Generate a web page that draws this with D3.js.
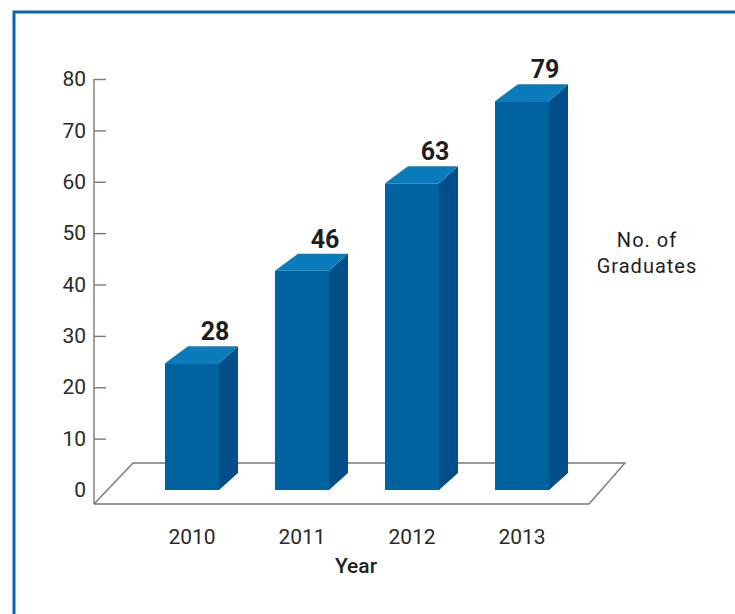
<!DOCTYPE html>
<html>
<head>
<meta charset="utf-8">
<script src="https://cdn.jsdelivr.net/npm/d3@7"></script>
<style>
  html, body { margin: 0; padding: 0; background: #fff; }
  svg { display: block; }
</style>
</head>
<body>
<svg id="chart" width="735" height="614"></svg>
<script>
// Graduates per year
const years = ["2010", "2011", "2012", "2013"];
const graduates = [28, 46, 63, 79];
const yTicks = [0, 10, 20, 30, 40, 50, 60, 70, 80];
const yAxisTitle = ["No. of", "Graduates"];
const xAxisTitle = "Year";

const svg = d3.select("#chart");
const W = 735, H = 614;

// outer frame (open on the right and bottom edges of the page)
svg.append("rect")
  .attr("x", 14).attr("y", 12)
  .attr("width", W).attr("height", H)
  .attr("fill", "none")
  .attr("stroke", "#0b66ae")
  .attr("stroke-width", 3);

const y = d3.scaleLinear().domain([0, 80]).range([490, 79]);
const x = d3.scalePoint().domain(years).range([192, 522]);

const barW = 54;      // front face width
const depthR = 19;    // depth offset, right edge
const depthL = 23;    // depth offset, left edge (slight perspective)
const depthY = 17;    // vertical depth offset
const axisX = 94;

// floor parallelogram
const floorFront = 504, floorBack = 463;
svg.append("path")
  .attr("d", d3.line()([[axisX, floorFront], [589, floorFront], [625, floorBack], [133, floorBack], [axisX, floorFront]]))
  .attr("fill", "none")
  .attr("stroke", "#7a7a7a")
  .attr("stroke-width", 1.4);

// y axis
const yAxis = d3.axisLeft(y)
  .tickValues(yTicks)
  .tickSize(-12)
  .tickPadding(8)
  .tickFormat(d3.format("d"));

const gy = svg.append("g")
  .attr("transform", `translate(${axisX},0)`)
  .call(yAxis);
gy.select(".domain").remove();
gy.selectAll(".tick line")
  .attr("stroke", "#7a7a7a")
  .attr("stroke-width", 1.4)
  .filter(d => d === 0).remove();
gy.selectAll(".tick text")
  .attr("fill", "#2a2a2a")
  .style("font-family", "Roboto, sans-serif")
  .style("font-weight", 400)
  .style("font-size", "21px");
svg.append("line")
  .attr("x1", axisX).attr("x2", axisX)
  .attr("y1", y(80)).attr("y2", floorFront)
  .attr("stroke", "#7a7a7a")
  .attr("stroke-width", 1.4);

// 3D bars
const data = years.map((yr, i) => ({ year: yr, value: graduates[i] }));
const bars = svg.append("g").selectAll("g").data(data).join("g");

bars.each(function(d) {
  const g = d3.select(this);
  const x0 = x(d.year) - barW / 2;
  const x1 = x0 + barW;
  const base = y(0);
  const backTop = y(d.value);
  const frontTop = backTop + depthY;
  // side face
  g.append("path")
    .attr("d", d3.line()([[x1, frontTop], [x1 + depthR, backTop], [x1 + depthR, base - depthY], [x1, base]]) + "Z")
    .attr("fill", "#014f8a");
  // front face
  g.append("rect")
    .attr("x", x0).attr("y", frontTop)
    .attr("width", barW).attr("height", base - frontTop)
    .attr("fill", "#00629f");
  // top face
  g.append("path")
    .attr("d", d3.line()([[x0, frontTop], [x1, frontTop], [x1 + depthR, backTop], [x0 + depthL, backTop]]) + "Z")
    .attr("fill", "#0a7bbb");
  // value label
  g.append("text")
    .attr("x", x(d.year) + 23)
    .attr("y", backTop - 6)
    .attr("text-anchor", "middle")
    .attr("fill", "#1e1e1e")
    .style("font-family", "Roboto, sans-serif")
    .style("font-weight", 700)
    .style("font-size", "25px")
    .text(d.value);
});

// x axis labels
svg.append("g").selectAll("text").data(years).join("text")
  .attr("x", d => x(d))
  .attr("y", 544)
  .attr("text-anchor", "middle")
  .attr("fill", "#2a2a2a")
  .style("font-family", "Roboto, sans-serif")
  .style("font-weight", 400)
  .style("font-size", "21px")
  .text(d => d);

svg.append("text")
  .attr("x", 356).attr("y", 573)
  .attr("text-anchor", "middle")
  .attr("fill", "#1e1e1e")
  .style("font-family", "Roboto, sans-serif")
  .style("font-weight", 500)
  .style("font-size", "21px")
  .text(xAxisTitle);

// y axis title
svg.append("g").selectAll("text").data(yAxisTitle).join("text")
  .attr("x", 647)
  .attr("y", (d, i) => 247 + i * 26)
  .attr("text-anchor", "middle")
  .attr("fill", "#1e1e1e")
  .style("font-family", "Roboto, sans-serif")
  .style("font-weight", 400)
  .style("font-size", "20px")
  .style("letter-spacing", "1px")
  .text(d => d);
</script>
</body>
</html>
